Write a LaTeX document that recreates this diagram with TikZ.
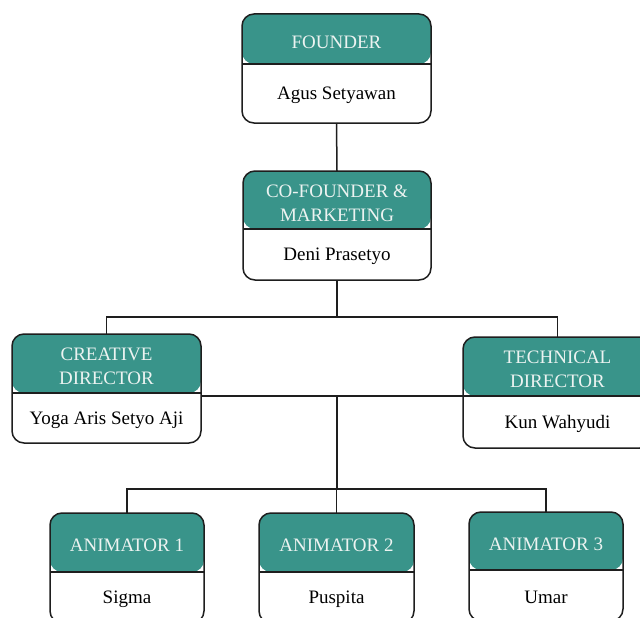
\documentclass[tikz,border=0pt]{standalone}
\usepackage{fontspec}
\setmainfont{Liberation Serif}
\usetikzlibrary{calc}
\definecolor{hdr}{RGB}{57,148,138}
\definecolor{hdrtxt}{RGB}{236,243,241}
\definecolor{ln}{RGB}{30,30,30}
\newcommand\OrgBox[8]{%
  \pgfmathsetmacro\bw{#4-#2}\pgfmathsetmacro\bh{#5-#3}\pgfmathsetmacro\hh{#6-#3}%
  \pgfmathsetmacro\cx{(#2+#4)/2}\pgfmathsetmacro\cy{(#3+#5)/2}%
  \pgfmathsetmacro\hy{(#3+#6)/2+3}\pgfmathsetmacro\by{(#6+#5)/2+2}%
  \node[orgbox, minimum width=\bw pt, minimum height=\bh pt,
    path picture={\fill[hdr] (path picture bounding box.north west) rectangle ([yshift=-\hh pt]path picture bounding box.north east);
      \draw[ln, line width=1.5pt] ([yshift=-\hh pt]path picture bounding box.north west) -- ([yshift=-\hh pt]path picture bounding box.north east);}]
    (#1) at (\cx,\cy) {};
  \draw[ln, line width=1.5pt, rounded corners=12pt] (#1.north west) rectangle (#1.south east);
  \node[hdrtext] (#1-h) at (\cx,\hy) {#7};
  \node[nametext] (#1-n) at (\cx,\by) {#8};
}
\begin{document}
\begin{tikzpicture}[x=1pt,y=-1pt,
  orgbox/.style={line width=1.5pt, rounded corners=12pt, fill=white, inner sep=0pt, outer sep=0pt},
  hdrtext/.style={text=hdrtxt, align=center, font=\fontsize{19}{24}\selectfont, inner sep=0pt},
  nametext/.style={text=black, align=center, font=\fontsize{19}{24}\selectfont, inner sep=0pt},
  conn/.style={draw=ln, line width=1.5pt}]
\useasboundingbox (0,0) rectangle (640,618);
\clip (0,0) rectangle (640,618);
\fill[white] (0,0) rectangle (640,618);
\coordinate (bus1) at (0,317);
\coordinate (bus2) at (0,396);
\coordinate (bus3) at (0,489);
\OrgBox{fnd}{242}{14}{431}{123}{64}{FOUNDER}{Agus Setyawan}
\OrgBox{cof}{243}{171}{431}{280}{229}{CO-FOUNDER \&\\MARKETING}{Deni Prasetyo}
\OrgBox{cre}{12}{334}{201}{443}{393}{CREATIVE\\DIRECTOR}{Yoga Aris Setyo Aji}
\OrgBox{tec}{463}{337}{652}{448}{396}{TECHNICAL\\DIRECTOR}{Kun Wahyudi}
\OrgBox{an1}{50}{513}{204}{623}{572}{ANIMATOR 1}{Sigma}
\OrgBox{an2}{259}{513}{414}{623}{572}{ANIMATOR 2}{Puspita}
\OrgBox{an3}{469}{512}{623}{621}{570}{ANIMATOR 3}{Umar}
\draw[conn] (fnd.south) -- (cof.north);
\draw[conn] (cof.south) -- (cof.south |- bus1);
\draw[conn] (cre.north) |- (bus1 -| tec.north) -- (tec.north);
\draw[conn] (cre.east |- bus2) -- (tec.west |- bus2);
\draw[conn] (cof.south |- bus2) -- (cof.south |- bus3);
\draw[conn] (an1.north) |- (bus3 -| an3.north) -- (an3.north);
\draw[conn] (an2.north) -- (an2.north |- bus3);
\end{tikzpicture}
\end{document}
